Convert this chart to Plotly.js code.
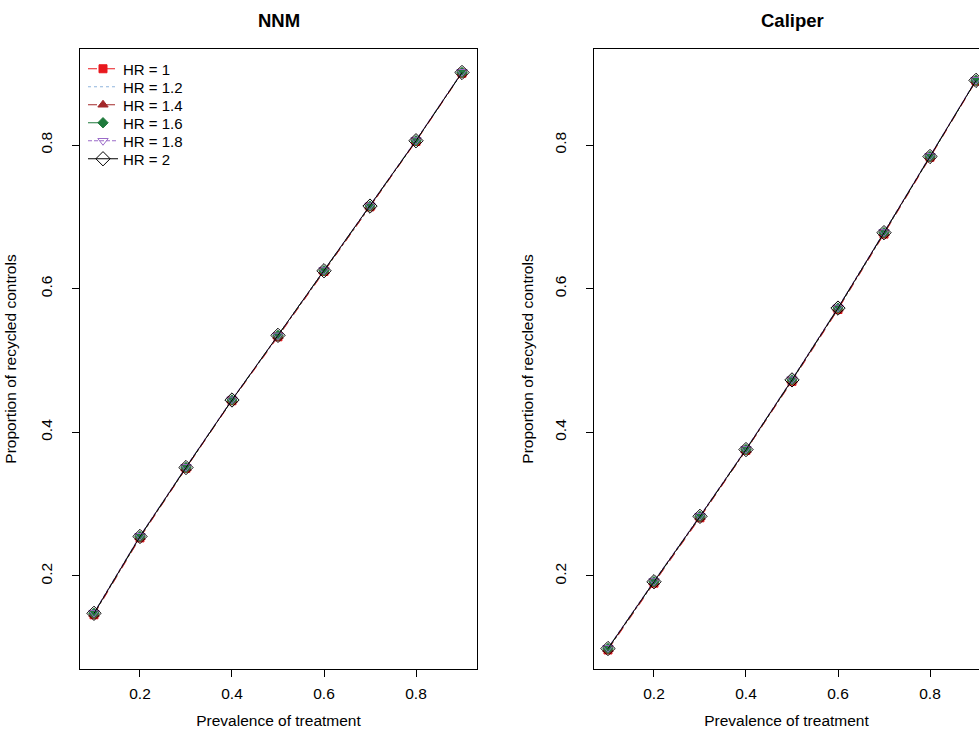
<!DOCTYPE html>
<html>
<head>
<meta charset="utf-8">
<script src="https://cdn.plot.ly/plotly-3.0.1.min.js"></script>
<style>html,body{margin:0;padding:0;background:#fff;}#chart{width:979px;height:729px;}</style>
</head>
<body>
<div id="chart"></div>
<script>
// Prevalence of treatment (x)
const prevalence = [0.1, 0.2, 0.3, 0.4, 0.5, 0.6, 0.7, 0.8, 0.9];
const hrLabels = ["HR = 1", "HR = 1.2", "HR = 1.4", "HR = 1.6", "HR = 1.8", "HR = 2"];

// NNM: proportion of recycled controls
const nnm_hr1   = [0.146, 0.253, 0.350, 0.444, 0.533, 0.624, 0.714, 0.805, 0.900];
const nnm_hr12  = [0.147, 0.254, 0.351, 0.445, 0.534, 0.625, 0.715, 0.806, 0.901];
const nnm_hr14  = [0.147, 0.254, 0.350, 0.445, 0.534, 0.624, 0.714, 0.806, 0.901];
const nnm_hr16  = [0.148, 0.255, 0.351, 0.445, 0.535, 0.625, 0.715, 0.806, 0.901];
const nnm_hr18  = [0.149, 0.256, 0.352, 0.446, 0.535, 0.626, 0.716, 0.807, 0.902];
const nnm_hr2   = [0.148, 0.255, 0.351, 0.445, 0.535, 0.625, 0.715, 0.806, 0.901];

// Caliper: proportion of recycled controls
const cal_hr1   = [0.097, 0.190, 0.281, 0.375, 0.471, 0.571, 0.676, 0.783, 0.889];
const cal_hr12  = [0.098, 0.191, 0.282, 0.376, 0.472, 0.572, 0.677, 0.784, 0.890];
const cal_hr14  = [0.098, 0.191, 0.282, 0.375, 0.472, 0.572, 0.677, 0.784, 0.890];
const cal_hr16  = [0.099, 0.192, 0.283, 0.376, 0.473, 0.573, 0.678, 0.784, 0.890];
const cal_hr18  = [0.100, 0.193, 0.284, 0.377, 0.474, 0.574, 0.679, 0.785, 0.891];
const cal_hr2   = [0.099, 0.192, 0.283, 0.376, 0.473, 0.573, 0.678, 0.784, 0.890];

const tickVals = [0.2, 0.4, 0.6, 0.8];
const tickText = ["0.2", "0.4", "0.6", "0.8"];

const styles = [
  {color: "#E8191E", dash: "dash",     symbol: "square",             size: 8,  mode: "lines+markers"},
  {color: "#8FB4DC", dash: "dot",      symbol: "circle",             size: 0,  mode: "lines"},
  {color: "#A3282A", dash: "dashdot",  symbol: "triangle-up",        size: 9,  mode: "lines+markers"},
  {color: "#1F7A3C", dash: "longdash", symbol: "diamond",            size: 8,  mode: "lines+markers"},
  {color: "#9B6BC8", dash: "4px,2px",  symbol: "triangle-down-open", size: 9,  mode: "lines+markers"},
  {color: "#000000", dash: "solid",    symbol: "diamond-open",       size: 11, mode: "lines+markers"}
];

const nnmSeries = [nnm_hr1, nnm_hr12, nnm_hr14, nnm_hr16, nnm_hr18, nnm_hr2];
const calSeries = [cal_hr1, cal_hr12, cal_hr14, cal_hr16, cal_hr18, cal_hr2];
const legendIds = ["legend", "legend2", "legend3", "legend4", "legend5", "legend6"];

const traces = [];
function addTraces(series, xa, ya, showLeg) {
  series.forEach((ys, i) => {
    const s = styles[i];
    const t = {
      x: prevalence, y: ys, type: "scatter", mode: s.mode,
      xaxis: xa, yaxis: ya, name: hrLabels[i], showlegend: showLeg,
      legend: legendIds[i],
      line: {color: s.color, width: 1, dash: s.dash}
    };
    if (s.mode.indexOf("markers") >= 0) {
      t.marker = {symbol: s.symbol, size: s.size, color: s.color, line: {color: s.color, width: 1}};
    }
    traces.push(t);
  });
}
addTraces(nnmSeries, "x", "y", true);
addTraces(calSeries, "x2", "y2", false);

const W = 979, H = 729;
const FAM = "Liberation Sans, Arial, sans-serif";
const font = {family: FAM, size: 15.5, color: "#000"};
const yRange = [0.0705, 0.9337];

function xAxis(domain, range) {
  return {
    domain: domain, range: range, tickvals: tickVals, ticktext: tickText,
    ticks: "outside", ticklen: 7, tickwidth: 1, tickcolor: "#000",
    showline: true, linecolor: "#000", linewidth: 1, mirror: true,
    showgrid: false, zeroline: false, automargin: false,
    tickfont: font, ticklabelstandoff: 3,
    title: {text: "Prevalence of treatment", font: font, standoff: 17}
  };
}
function yAxis(domain, anchor, mirror, standoff) {
  return {
    domain: domain, range: yRange, anchor: anchor, tickvals: tickVals, ticktext: tickText,
    ticks: "outside", ticklen: 7, tickwidth: 1, tickcolor: "#000", tickangle: -90,
    showline: true, linecolor: "#000", linewidth: 1, mirror: mirror,
    showgrid: false, zeroline: false, automargin: false,
    tickfont: font, ticklabelstandoff: 14,
    title: {text: "Proportion of recycled controls", font: font, standoff: standoff}
  };
}

const yDom = [1 - 669 / H, 1 - 49 / H];
const layout = {
  width: W, height: H,
  margin: {l: 0, r: 0, t: 0, b: 0},
  paper_bgcolor: "#fff", plot_bgcolor: "#fff",
  font: font,
  showlegend: true,
  xaxis: Object.assign(xAxis([80 / W, 477 / W], [0.0696, 0.9326]), {anchor: "y"}),
  yaxis: yAxis(yDom, "x", true, 17),
  xaxis2: Object.assign(xAxis([594 / W, 1], [0.0696, 0.9065]), {anchor: "y2"}),
  yaxis2: yAxis(yDom, "x2", false, 14),
  annotations: [
    {text: "<b>NNM</b>", x: 278.5 / W, y: 1 - 21 / H, xref: "paper", yref: "paper",
     xanchor: "center", yanchor: "middle", showarrow: false,
     font: {family: FAM, size: 18.5, color: "#000"}},
    {text: "<b>Caliper</b>", x: 792.5 / W, y: 1 - 21 / H, xref: "paper", yref: "paper",
     xanchor: "center", yanchor: "middle", showarrow: false,
     font: {family: FAM, size: 18.5, color: "#000"}}
  ]
};
// one single-entry legend per series, stacked 18px apart as in the reference
legendIds.forEach((id, i) => {
  layout[id] = {
    x: 83 / W, y: 1 - (69 + 18 * i) / H, xanchor: "left", yanchor: "middle",
    bgcolor: "rgba(0,0,0,0)", borderwidth: 0,
    font: {family: FAM, size: 15, color: "#000"},
    itemwidth: 30
  };
});

Plotly.newPlot("chart", traces, layout, {staticPlot: true, displayModeBar: false});
</script>
</body>
</html>
